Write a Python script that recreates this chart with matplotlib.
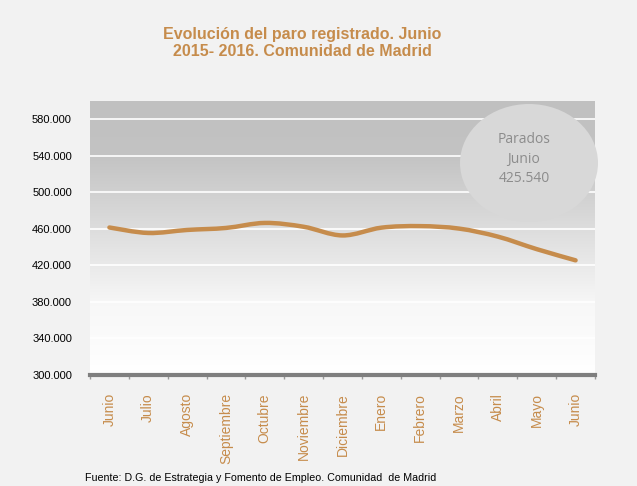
import numpy as np
import matplotlib
matplotlib.use("Agg")
import matplotlib.pyplot as plt
from matplotlib.path import Path
from matplotlib.patches import PathPatch, Ellipse
from matplotlib.colors import LinearSegmentedColormap

months = ["Junio", "Julio", "Agosto", "Septiembre", "Octubre", "Noviembre",
          "Diciembre", "Enero", "Febrero", "Marzo", "Abril", "Mayo", "Junio"]
parados = [461500, 455500, 458800, 461000, 466500, 462300, 452800,
           461300, 463000, 460300, 451500, 437800, 425540]
yticks = [300000, 340000, 380000, 420000, 460000, 500000, 540000, 580000]
ytick_labels = ["300.000", "340.000", "380.000", "420.000", "460.000",
                "500.000", "540.000", "580.000"]

title = "Evolución del paro registrado. Junio\n2015- 2016. Comunidad de Madrid"
source = "Fuente: D.G. de Estrategia y Fomento de Empleo. Comunidad  de Madrid"
bubble_text = "Parados\nJunio\n425.540"

TAN = "#c68c4c"
narrow = ["Liberation Sans Narrow", "Liberation Sans", "DejaVu Sans"]

fig = plt.figure(figsize=(6.37, 4.86), dpi=100)
fig.patch.set_facecolor("#f2f2f2")
ax = fig.add_axes([90/637, 1-375/486, 505/637, 274/486])

n = len(months)
xs = np.arange(n)
ax.set_xlim(-0.5, n - 0.5)
ax.set_ylim(300000, 600000)

# gradient background
cmap = LinearSegmentedColormap.from_list("g", [(0, "#ffffff"), (0.25, "#f8f8f8"),
                                               (0.6, "#d6d6d6"), (0.8, "#c3c3c3"),
                                               (1, "#c0c0c0")])
grad = np.linspace(0, 1, 256).reshape(-1, 1)
ax.imshow(grad, aspect="auto", cmap=cmap, origin="lower",
          extent=[0, 1, 0, 1], transform=ax.transAxes, zorder=0)

for y in yticks[1:]:
    ax.axhline(y, color="white", lw=1.2, zorder=1)

# smooth line (Catmull-Rom -> cubic Bezier)
ys = np.array(parados, dtype=float)
verts = [(xs[0], ys[0])]
codes = [Path.MOVETO]
for i in range(n - 1):
    p0 = (xs[max(i-1, 0)], ys[max(i-1, 0)])
    p1 = (xs[i], ys[i])
    p2 = (xs[i+1], ys[i+1])
    p3 = (xs[min(i+2, n-1)], ys[min(i+2, n-1)])
    c1 = (p1[0] + (p2[0]-p0[0])/6, p1[1] + (p2[1]-p0[1])/6)
    c2 = (p2[0] - (p3[0]-p1[0])/6, p2[1] - (p3[1]-p1[1])/6)
    verts += [c1, c2, p2]
    codes += [Path.CURVE4]*3
ax.add_patch(PathPatch(Path(verts, codes), facecolor="none", edgecolor=TAN,
                       lw=3.2, capstyle="round", zorder=3))

for s in ["top", "right", "left"]:
    ax.spines[s].set_visible(False)
ax.spines["bottom"].set_color("#7f7f7f")
ax.spines["bottom"].set_linewidth(3)

ax.set_yticks(yticks)
ax.set_yticklabels(ytick_labels, fontsize=8, family=["Liberation Sans", "DejaVu Sans"])
ax.tick_params(axis="y", length=0, pad=13)

ax.set_xticks(xs)
ax.set_xticklabels(months, rotation=90, color=TAN, fontsize=10,
                   family=["Liberation Sans", "DejaVu Sans"], va="top")
ax.tick_params(axis="x", length=0, pad=13)
ax.set_xticks(np.arange(n+1) - 0.5, minor=True)
ax.tick_params(axis="x", which="minor", length=3, color="#9a9a9a", width=1)

# bubble annotation
fig.patches.append(Ellipse((529/637, 1-163/486), 138/637, 118/486,
                           transform=fig.transFigure, facecolor="#d8d8d8",
                           edgecolor="none", zorder=5))
fig.text(524/637, 1-159/486, bubble_text, ha="center", va="center",
         fontsize=10, color="#8c8c8c", linespacing=1.4,
         family=["Open Sans", "DejaVu Sans"], zorder=6)

fig.text(302/637, 1-43/486, title, ha="center", va="center", fontsize=11.5,
         fontweight="bold", color=TAN, family=narrow, linespacing=1.25)
fig.text(85/637, 1-478/486, source, ha="left", va="center", fontsize=7.7,
         color="black", family=narrow)

fig.savefig("out.png", dpi=100, facecolor=fig.get_facecolor())
